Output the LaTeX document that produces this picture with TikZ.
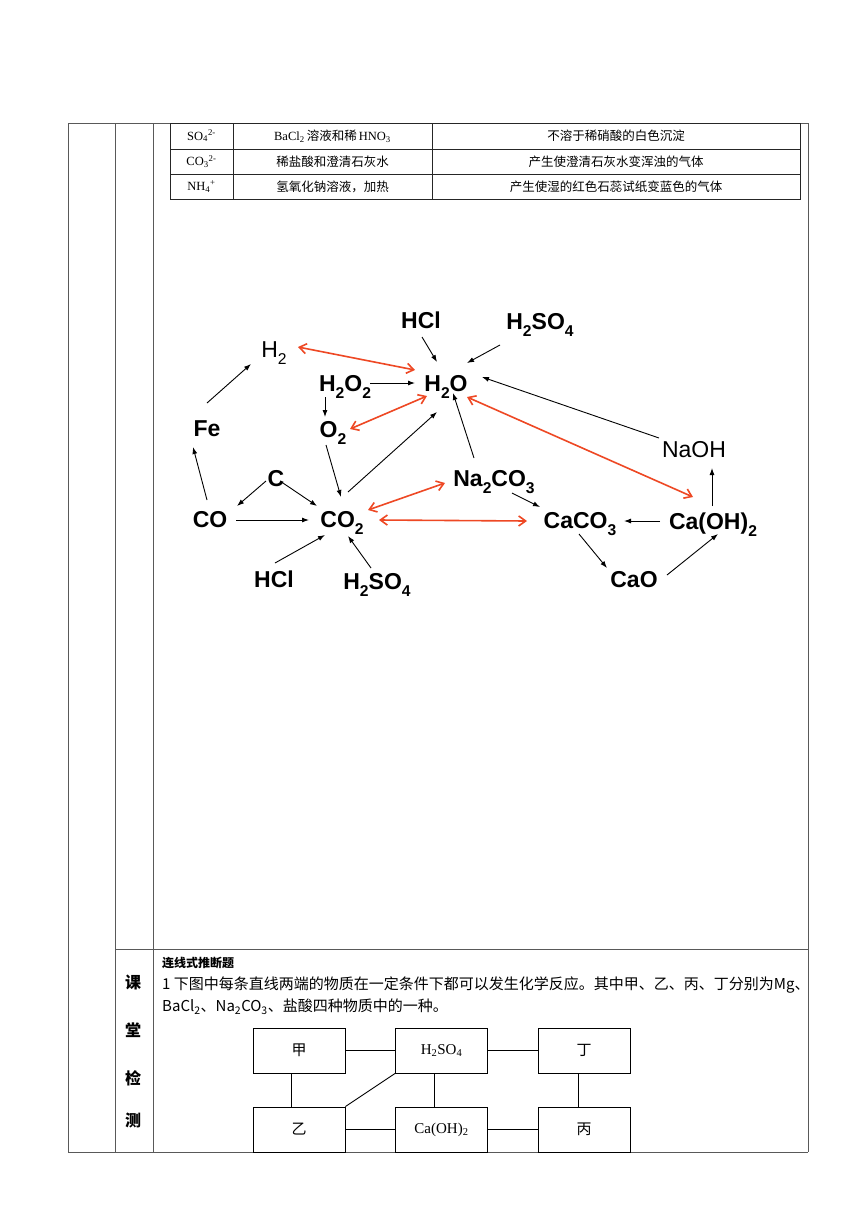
\documentclass[tikz,border=0pt]{standalone}
\usepackage{fontspec}
\setmainfont{Liberation Serif}
\newfontfamily\cjk{Noto Sans CJK SC}
\newfontfamily\diag{Liberation Sans}
\usetikzlibrary{arrows.meta}
\definecolor{rarrow}{RGB}{238,72,36}
\newcommand{\sbs}[1]{\raisebox{-0.3em}{\scalebox{0.68}{#1}}}
\begin{document}
\begin{tikzpicture}[x=1pt,y=-1pt,
 chem/.style={font=\diag\bfseries\fontsize{23}{23}\selectfont, inner sep=0pt, text height=16.5pt, text depth=0pt},
 chemn/.style={chem, font=\diag\fontsize{23}{23}\selectfont},
 blk/.style={-{Latex[length=7pt,width=5pt]}, line width=0.9pt},
 red2/.style={{Straight Barb[length=7pt,width=10pt]}-{Straight Barb[length=7pt,width=10pt]}, line width=1.6pt, draw=rarrow},
 frameln/.style={draw=black!65, line width=0.9pt},
 tbl/.style={draw=black!85, line width=0.8pt},
 cell/.style={font=\fontsize{12.5}{13}\selectfont, inner sep=0pt},
 sbox/.style={draw, line width=0.9pt, minimum width=92pt, minimum height=45pt, inner sep=0pt, font=\fontsize{15}{15}\selectfont},
 ]
\useasboundingbox (0,0) rectangle (860,1216);
\fill[white] (0,0) rectangle (860,1216);
% frame
\draw[frameln] (68,123) -- (808,123);
\draw[frameln] (68,123) -- (68,1152);
\draw[frameln] (115,123) -- (115,1152);
\draw[frameln] (153,123) -- (153,1152);
\draw[frameln] (808,123) -- (808,1152);
\draw[frameln] (115,949) -- (808,949);
\draw[frameln] (68,1152) -- (808,1152);
% table
\draw[tbl] (170,123) rectangle (800,199);
\draw[tbl] (170,149) -- (800,149);
\draw[tbl] (170,174) -- (800,174);
\draw[tbl] (233,123) -- (233,199);
\draw[tbl] (432,123) -- (432,199);
\node[cell] (t11) at (201.5,136) {SO\textsubscript{4}\textsuperscript{2-}};
\node[cell] (t12) at (332.5,136) {BaCl\textsubscript{2}\,{\cjk 溶液和稀}\,HNO\textsubscript{3}};
\node[cell] (t13) at (616,136) {\cjk 不溶于稀硝酸的白色沉淀};
\node[cell] (t21) at (201.5,161.5) {CO\textsubscript{3}\textsuperscript{2-}};
\node[cell] (t22) at (332.5,161.5) {\cjk 稀盐酸和澄清石灰水};
\node[cell] (t23) at (616,161.5) {\cjk 产生使澄清石灰水变浑浊的气体};
\node[cell] (t31) at (201.5,186.5) {NH\textsubscript{4}\textsuperscript{+}};
\node[cell] (t32) at (332.5,186.5) {\cjk 氢氧化钠溶液，加热};
\node[cell] (t33) at (616,186.5) {\cjk 产生使湿的红色石蕊试纸变蓝色的气体};
% diagram nodes
\node[chem] (hcla) at (421,320) {HCl};
\node[chem] (hsa) at (540,321) {H\sbs{2}SO\sbs{4}};
\node[chemn] (h2) at (274,349) {H\sbs{2}};
\node[chem] (h2o2) at (345,383) {H\sbs{2}O\sbs{2}};
\node[chem] (h2o) at (446,383) {H\sbs{2}O};
\node[chem] (o2) at (333,429) {O\sbs{2}};
\node[chem] (fe) at (207,428) {Fe};
\node[chemn] (naoh) at (694,449) {NaOH};
\node[chem] (cc) at (276,478) {C};
\node[chem] (naco) at (494,478) {Na\sbs{2}CO\sbs{3}};
\node[chem] (co) at (210,519) {CO};
\node[chem] (co2) at (342,519) {CO\sbs{2}};
\node[chem] (caco) at (580,520) {CaCO\sbs{3}};
\node[chem] (caoh2) at (713,521) {Ca(OH)\sbs{2}};
\node[chem] (hclb) at (274,579) {HCl};
\node[chem] (hsb) at (377,581) {H\sbs{2}SO\sbs{4}};
\node[chem] (cao) at (634,579) {CaO};
% black arrows
\draw[blk] ([shift={(0,-25)}]fe.center) -- ([shift={(-23,15)}]h2.center);
\draw[blk] ([shift={(-3,-19)}]co.center) -- ([shift={(-14,19)}]fe.center);
\draw[blk] ([shift={(-10,3)}]cc.center) -- ([shift={(27,-13)}]co.center);
\draw[blk] ([shift={(4,3)}]cc.center) -- ([shift={(-25,-13)}]co2.center);
\draw[blk] ([shift={(26,1)}]co.center) -- ([shift={(-33,1)}]co2.center);
\draw[blk] ([shift={(-7,16)}]o2.center) -- ([shift={(-1,-22)}]co2.center);
\draw[blk] ([shift={(-20,14)}]h2o2.center) -- ([shift={(-8,-12)}]o2.center);
\draw[blk] ([shift={(25,0)}]h2o2.center) -- ([shift={(-31,0)}]h2o.center);
\draw[blk] ([shift={(1,17)}]hcla.center) -- ([shift={(-9,-21)}]h2o.center);
\draw[blk] ([shift={(-40,24)}]hsa.center) -- ([shift={(21,-20)}]h2o.center);
\draw[blk] ([shift={(6,-27)}]co2.center) -- ([shift={(-9,29)}]h2o.center);
\draw[blk] ([shift={(-20,-20)}]naco.center) -- ([shift={(7,10)}]h2o.center);
\draw[blk] ([shift={(-35,-11)}]naoh.center) -- ([shift={(36,-6)}]h2o.center);
\draw[blk] ([shift={(-1,-15)}]caoh2.center) -- ([shift={(18,19)}]naoh.center);
\draw[blk] ([shift={(18,15)}]naco.center) -- ([shift={(-40,-13)}]caco.center);
\draw[blk] ([shift={(-53,0)}]caoh2.center) -- ([shift={(44,1)}]caco.center);
\draw[blk] ([shift={(-1,14)}]caco.center) -- ([shift={(-27,-11)}]cao.center);
\draw[blk] ([shift={(33,-4)}]cao.center) -- ([shift={(5,13)}]caoh2.center);
\draw[blk] ([shift={(1,-16)}]hclb.center) -- ([shift={(-17,16)}]co2.center);
\draw[blk] ([shift={(-6,-13)}]hsb.center) -- ([shift={(6,17)}]co2.center);
% red arrows
\draw[red2] ([shift={(24,-2)}]h2.center) -- ([shift={(-31,-13)}]h2o.center);
\draw[red2] ([shift={(17,0)}]o2.center) -- ([shift={(-19,13)}]h2o.center);
\draw[red2] ([shift={(26,-9)}]co2.center) -- ([shift={(-49,5)}]naco.center);
\draw[red2] ([shift={(37,1)}]co2.center) -- ([shift={(-53,1)}]caco.center);
\draw[red2] ([shift={(21,14)}]h2o.center) -- ([shift={(-20,-24)}]caoh2.center);
% lower section
\node[font=\cjk\bfseries\fontsize{16}{16}\selectfont, inner sep=0pt] (k1) at (133,982) {课};
\node[font=\cjk\bfseries\fontsize{16}{16}\selectfont, inner sep=0pt] (k2) at (133,1030) {堂};
\node[font=\cjk\bfseries\fontsize{16}{16}\selectfont, inner sep=0pt] (k3) at (133,1078) {检};
\node[font=\cjk\bfseries\fontsize{16}{16}\selectfont, inner sep=0pt] (k4) at (133,1120) {测};
\node[anchor=west, inner sep=0pt, font=\cjk\bfseries\fontsize{12}{12}\selectfont] (title) at (162,963) {连线式推断题};
\node[anchor=west, inner sep=0pt, font=\cjk\fontsize{15}{15}\selectfont] (l1) at (162,985) {1 下图中每条直线两端的物质在一定条件下都可以发生化学反应。其中甲、乙、丙、丁分别为Mg、};
\node[anchor=west, inner sep=0pt, font=\cjk\fontsize{15}{15}\selectfont] (l2) at (162,1007) {BaCl\textsubscript{2}、Na\textsubscript{2}CO\textsubscript{3}、盐酸四种物质中的一种。};
\node[sbox] (jia) at (299,1050.5) {\cjk 甲};
\node[sbox] (hs) at (441.5,1050.5) {H\textsubscript{2}SO\textsubscript{4}};
\node[sbox] (ding) at (584,1050.5) {\cjk 丁};
\node[sbox] (yi) at (299,1129.5) {\cjk 乙};
\node[sbox] (caoh) at (441.5,1129.5) {Ca(OH)\textsubscript{2}};
\node[sbox] (bing) at (584,1129.5) {\cjk 丙};
\draw[line width=0.9pt] (jia) -- (hs);
\draw[line width=0.9pt] (hs) -- (ding);
\draw[line width=0.9pt] ([xshift=-8pt]jia.south) -- ([xshift=-8pt]yi.north);
\draw[line width=0.9pt] ([xshift=-7.5pt]hs.south) -- ([xshift=-7.5pt]caoh.north);
\draw[line width=0.9pt] ([xshift=-6pt]ding.south) -- ([xshift=-6pt]bing.north);
\draw[line width=0.9pt] (hs.south west) -- (yi.north east);
\draw[line width=0.9pt] (yi) -- (caoh);
\draw[line width=0.9pt] (caoh) -- (bing);
\end{tikzpicture}
\end{document}
